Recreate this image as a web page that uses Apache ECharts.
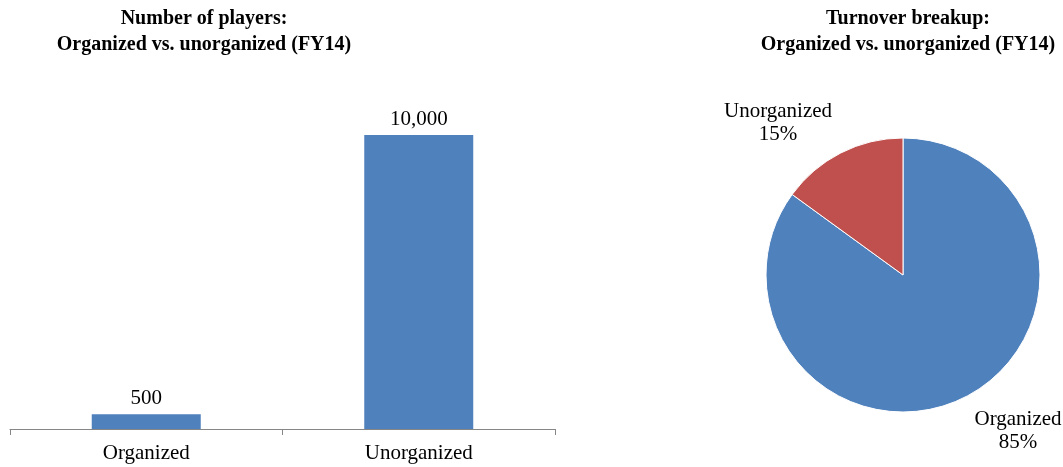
<!DOCTYPE html>
<html>
<head>
<meta charset="utf-8">
<style>
  html, body { margin: 0; padding: 0; background: #fff; }
  #chart { width: 1063px; height: 467px; }
</style>
<script src="https://cdn.jsdelivr.net/npm/echarts@6/dist/echarts.min.js"></script>
</head>
<body>
<div id="chart"></div>
<script>
// Number of players by segment (FY14)
const playerCategories = ['Organized', 'Unorganized'];
const playerCounts = [500, 10000];

// Turnover share by segment (FY14), percent
const turnoverNames = ['Organized', 'Unorganized'];
const turnoverShares = [85, 15];

const FONT = '"Liberation Serif", "Times New Roman", serif';
const BLUE = '#4F81BD';
const RED = '#C0504D';

const pieCenter = [903, 275];
const pieRadius = 137;
// label anchor offsets from the pie centre
const pieLabelOffsets = {
  'Organized': [115, 156],
  'Unorganized': [-125, -152]
};

const chart = echarts.init(document.getElementById('chart'), null, { renderer: 'canvas' });

const titleStyle = { fontFamily: FONT, fontWeight: 'bold', fontSize: 20, lineHeight: 26, color: '#000' };

chart.setOption({
  animation: false,
  backgroundColor: '#ffffff',
  title: [
    {
      text: 'Number of players:\nOrganized vs. unorganized (FY14)',
      left: 199,
      top: 1,
      textAlign: 'center',
      textStyle: titleStyle
    },
    {
      text: 'Turnover breakup:\nOrganized vs. unorganized (FY14)',
      left: 903,
      top: 1,
      textAlign: 'center',
      textStyle: titleStyle
    }
  ],
  grid: { left: 10, right: 508, top: 135, bottom: 38, containLabel: false },
  xAxis: {
    type: 'category',
    data: playerCategories,
    boundaryGap: true,
    axisLine: { show: true, lineStyle: { color: '#868686', width: 1 } },
    axisTick: { show: true, length: 6, lineStyle: { color: '#868686' } },
    axisLabel: { fontFamily: FONT, fontSize: 21, color: '#000', margin: 14 },
    splitLine: { show: false }
  },
  yAxis: {
    type: 'value',
    min: 0,
    max: 10000,
    show: false,
    splitLine: { show: false }
  },
  series: [
    {
      type: 'bar',
      data: playerCounts,
      barWidth: '40%',
      itemStyle: { color: BLUE },
      label: {
        show: true,
        position: 'top',
        distance: 5,
        fontFamily: FONT,
        fontSize: 21,
        color: '#000',
        formatter: p => p.value.toLocaleString('en-US')
      }
    },
    {
      type: 'pie',
      center: pieCenter,
      radius: pieRadius,
      startAngle: 90,
      clockwise: true,
      data: turnoverNames.map((n, i) => ({ name: n, value: turnoverShares[i] })),
      color: [BLUE, RED],
      itemStyle: { borderColor: '#ffffff', borderWidth: 1 },
      label: {
        show: true,
        position: 'outside',
        formatter: '{b}\n{c}%',
        fontFamily: FONT,
        fontSize: 21,
        lineHeight: 23,
        color: '#000',
        align: 'center',
        overflow: 'none',
        width: 140
      },
      labelLine: { show: false },
      labelLayout: function (params) {
        const off = pieLabelOffsets[params.text.split('\n')[0]] || [0, 0];
        return {
          x: pieCenter[0] + off[0],
          y: pieCenter[1] + off[1],
          align: 'center',
          verticalAlign: 'middle'
        };
      },
      emphasis: { disabled: true }
    }
  ]
});
</script>
</body>
</html>
